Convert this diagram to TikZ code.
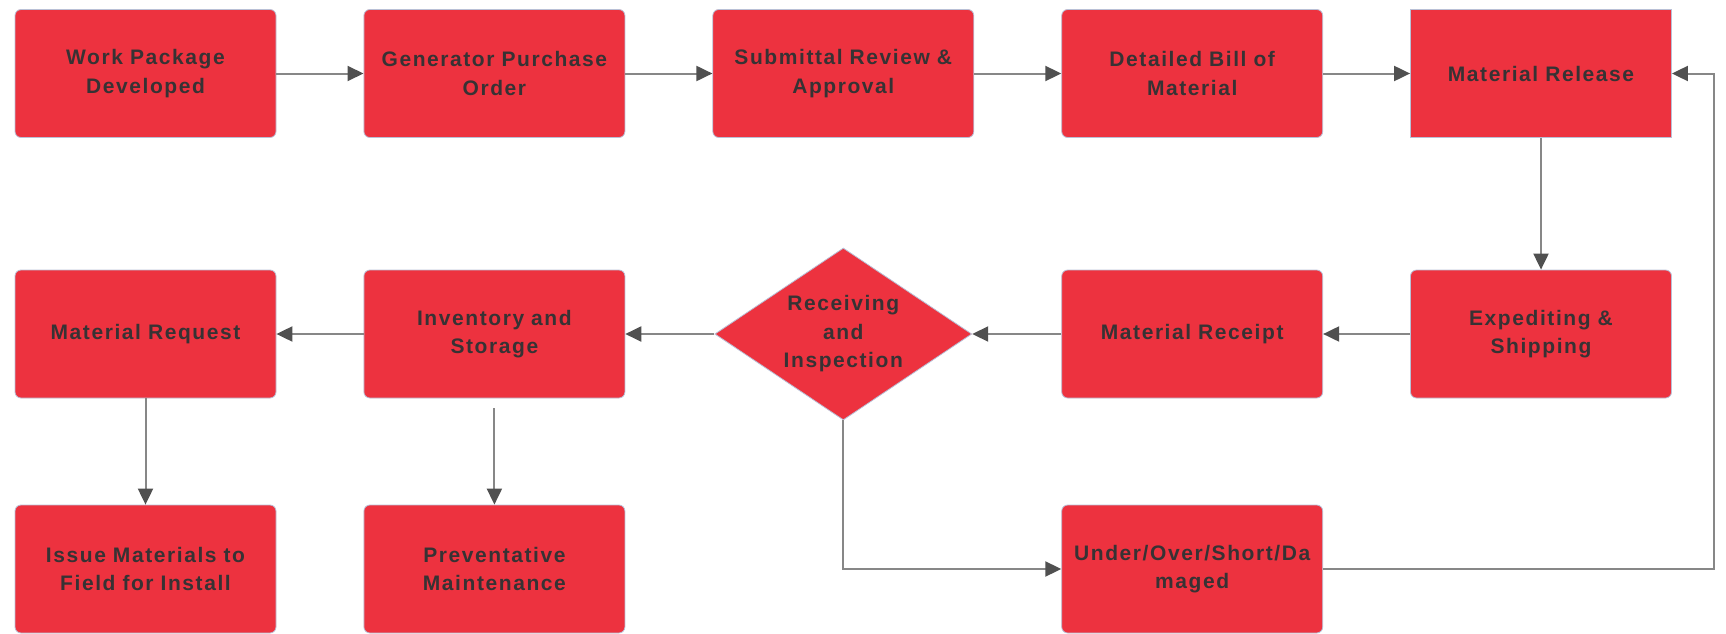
\documentclass[tikz,border=0pt]{standalone}
\usepackage{fontspec}
\newfontfamily\flowfont{Liberation Sans}[LetterSpace=7.5]
\usetikzlibrary{arrows.meta, shapes.geometric}
\definecolor{boxfill}{RGB}{237, 50, 63}
\definecolor{boxedge}{RGB}{185, 192, 214}
\definecolor{boxtext}{RGB}{55, 50, 52}
\definecolor{flowline}{RGB}{135, 135, 135}
\definecolor{flowhead}{RGB}{80, 80, 80}

\begin{document}
\begin{tikzpicture}[x=1pt, y=-1pt,
    stage/.style={draw=boxedge, line width=0.8pt, fill=boxfill, rounded corners=6pt, minimum width=261pt, minimum height=128pt, text width=250pt, align=center, inner sep=0pt, text=boxtext, font=\flowfont\bfseries\fontsize{21}{28.5}\selectfont},
    gate/.style={diamond, aspect=1.494, draw=boxedge, line width=0.8pt, fill=boxfill, minimum width=257pt, minimum height=172pt, inner sep=0pt, align=center, text=boxtext, font=\flowfont\bfseries\fontsize{21}{28.5}\selectfont},
    flow/.style={draw=flowline, line width=2pt, -{Triangle[length=16pt, width=15pt, color=flowhead]}}]
    \useasboundingbox (0,0) rectangle (1726,634);

    % first row
    \node[stage] (work) at (145.5,73.5) {Work Package\\Developed};
    \node[stage] (po) at (494.4,73.5) {Generator Purchase\\Order};
    \node[stage] (review) at (843.3,73.5) {Submittal Review \&\\Approval};
    \node[stage] (bom) at (1192.2,73.5) {Detailed Bill of\\Material};
    \node[stage, sharp corners] (release) at (1541,73.5) {Material Release};

    % second row
    \node[stage] (request) at (145.5,334) {Material Request};
    \node[stage] (storage) at (494.4,334) {Inventory and\\Storage};
    \node[gate] (inspect) at (843.3,334) {Receiving\\and\\Inspection};
    \node[stage] (receipt) at (1192.2,334) {Material Receipt};
    \node[stage] (expedite) at (1541,334) {Expediting \&\\Shipping};

    % third row
    \node[stage] (issue) at (145.5,569) {Issue Materials to\\Field for Install};
    \node[stage] (maint) at (494.4,569) {Preventative\\Maintenance};
    \node[stage] (damaged) at (1192.2,569) {Under/Over/Short/Da\\maged};

    \coordinate (bend) at (1714,73.5);

    \draw[flow] (work) -- (po);
    \draw[flow] (po) -- (review);
    \draw[flow] (review) -- (bom);
    \draw[flow] (bom) -- (release);
    \draw[flow] (release) -- (expedite);
    \draw[flow] (expedite) -- (receipt);
    \draw[flow] (receipt) -- (inspect);
    \draw[flow] (inspect) -- (storage);
    \draw[flow] (storage) -- (request);
    \draw[flow] (request) -- (issue);
    \draw[flow, shorten <=10pt] (storage) -- (maint);
    \draw[flow] (inspect.south) |- (damaged.west);
    \draw[flow] (damaged.east) -| (bend) -- (release.east);
  \end{tikzpicture}
\end{document}
